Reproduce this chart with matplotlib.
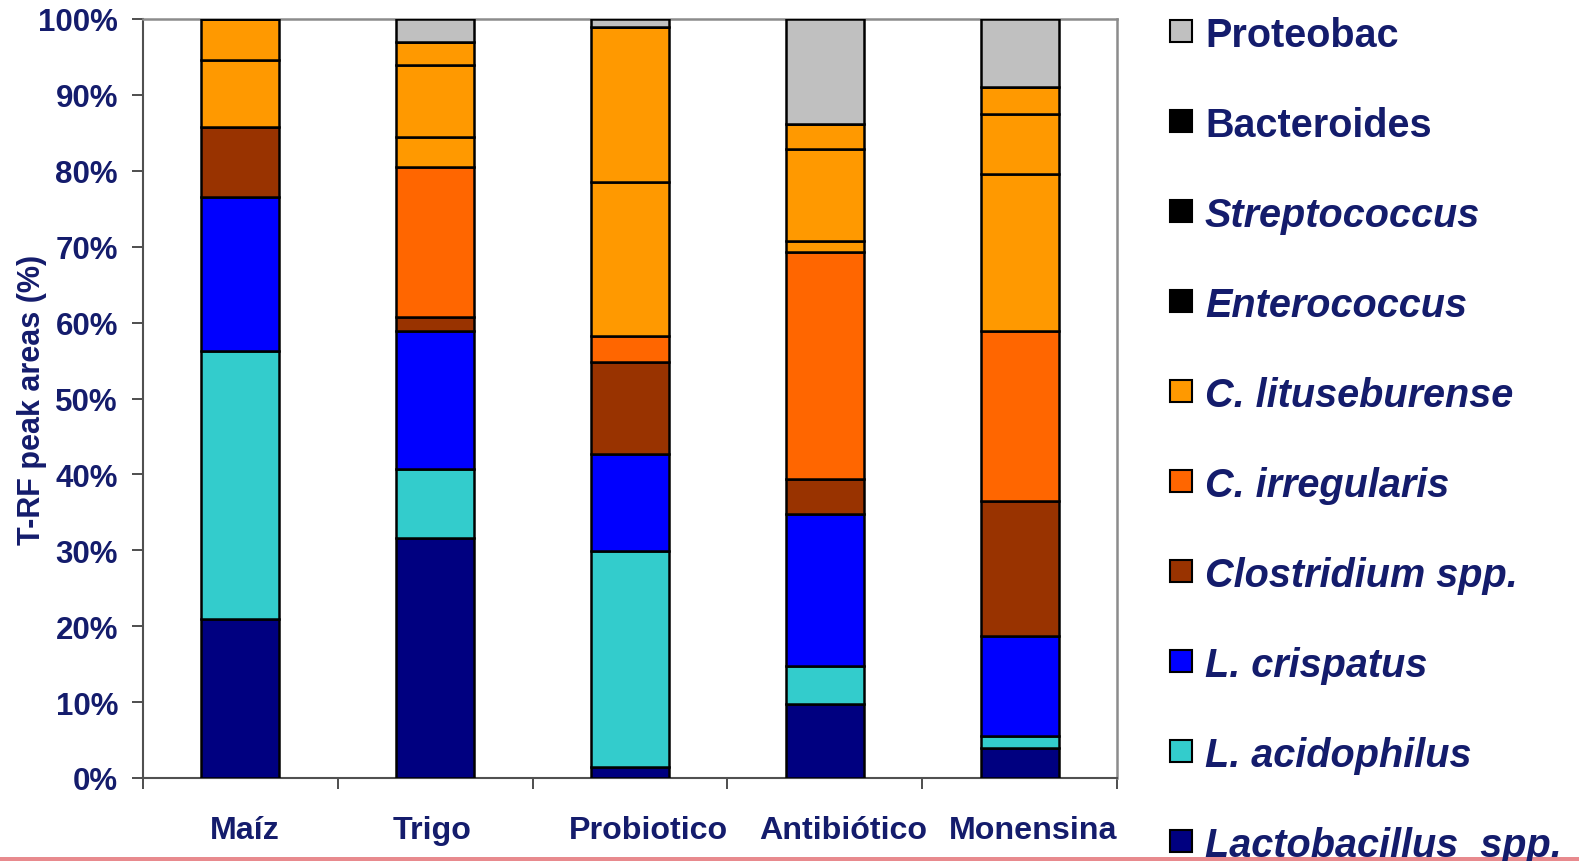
import matplotlib.pyplot as plt
from matplotlib.patches import Rectangle
from matplotlib.transforms import ScaledTranslation
import numpy as np

plt.rcParams['font.family'] = ['Liberation Sans', 'DejaVu Sans']
plt.rcParams['font.weight'] = 'bold'

dietas = ['Maíz', 'Trigo', 'Probiotico', 'Antibiótico', 'Monensina']

# % del área de picos T-RF, de abajo hacia arriba
lactobacillus = [21.0, 31.6, 1.5, 9.8, 3.9]
acidophilus = [35.2, 9.1, 28.4, 4.9, 1.6]
crispatus = [20.3, 18.2, 12.8, 20.1, 13.2]
clostridium = [9.3, 1.9, 12.1, 4.6, 17.8]
irregularis = [0.0, 19.7, 3.4, 29.9, 22.4]
lituseburense = [8.8, 4.0, 20.3, 1.4, 20.7]
enterococcus = [5.4, 9.5, 20.4, 12.2, 7.9]
streptococcus = [0.0, 3.0, 0.0, 3.3, 3.6]
bacteroides = [0.0, 0.0, 0.0, 0.0, 0.0]
proteobac = [0.0, 3.0, 1.1, 13.8, 8.9]

series = [
    ('Lactobacillus  spp.', lactobacillus, '#000080', '#000080', True),
    ('L. acidophilus', acidophilus, '#33CCCC', '#33CCCC', True),
    ('L. crispatus', crispatus, '#0000FF', '#0000FF', True),
    ('Clostridium spp.', clostridium, '#993300', '#993300', True),
    ('C. irregularis', irregularis, '#FF6600', '#FF6600', True),
    ('C. lituseburense', lituseburense, '#FF9900', '#FF9900', True),
    ('Enterococcus', enterococcus, '#FF9900', '#000000', True),
    ('Streptococcus', streptococcus, '#FF9900', '#000000', True),
    ('Bacteroides', bacteroides, '#FF9900', '#000000', False),
    ('Proteobac', proteobac, '#C0C0C0', '#C0C0C0', False),
]

txt = '#141C6C'
W, H = 1579, 862

fig = plt.figure(figsize=(W / 100, H / 100), dpi=100)
ax = fig.add_axes([143 / W, 1 - 779 / H, (1117 - 143) / W, (779 - 20) / H])

x = np.arange(len(dietas))
bottom = np.zeros(len(dietas))
for name, vals, col, _, _ in series:
    ax.bar(x, vals, 0.4, bottom=bottom, color=col, edgecolor='black',
           linewidth=1.8, zorder=3)
    bottom += np.array(vals)

ax.set_xlim(-0.5, len(dietas) - 0.5)
ax.set_ylim(0, 100)
ax.set_yticks(np.arange(0, 101, 10))
ax.set_yticklabels([f'{v}%' for v in range(0, 101, 10)])
ax.set_xticks(x)
ax.set_xticklabels(dietas)
ax.set_xticks(np.arange(-0.5, len(dietas)), minor=True)
ax.tick_params(axis='x', which='major', length=0, pad=27, labelsize=23.2, labelcolor=txt)
ax.tick_params(axis='x', which='minor', length=8, width=1.3, color='#404040')
ax.tick_params(axis='y', length=8, width=1.3, color='#404040', pad=10,
               labelsize=22.5, labelcolor=txt)

# las etiquetas del eje x quedan algo corridas hacia la derecha
shift_pt = [3, -2, 13, 13, 10]
for lab, dx in zip(ax.get_xticklabels(), shift_pt):
    lab.set_transform(lab.get_transform() + ScaledTranslation(dx / 72, 0, fig.dpi_scale_trans))

for s in ['left', 'bottom']:
    ax.spines[s].set_color('#505050')
    ax.spines[s].set_linewidth(1.5)
for s in ['top', 'right']:
    ax.spines[s].set_color('#8c8c8c')
    ax.spines[s].set_linewidth(1.8)

ax.set_ylabel('T-RF peak areas (%)', fontsize=22, color=txt, fontweight='bold')
ax.yaxis.set_label_coords(-0.099, 0.5)

# leyenda
for i, (name, _, _, lcol, ital) in enumerate(reversed(series)):
    yc = 32 + 90 * i
    fig.add_artist(Rectangle((1170 / W, 1 - (yc + 11) / H), 22 / W, 22 / H,
                             transform=fig.transFigure, facecolor=lcol,
                             edgecolor='black', linewidth=1.5))
    fig.text(1205 / W, 1 - (yc + 4) / H, name, fontsize=28.5, color=txt,
             style='italic' if ital else 'normal', va='center', ha='left')

fig.add_artist(Rectangle((0, 0), 1, 4 / H, transform=fig.transFigure,
                         facecolor='#E88A8E', edgecolor='none'))

fig.savefig('out.png', dpi=100)
